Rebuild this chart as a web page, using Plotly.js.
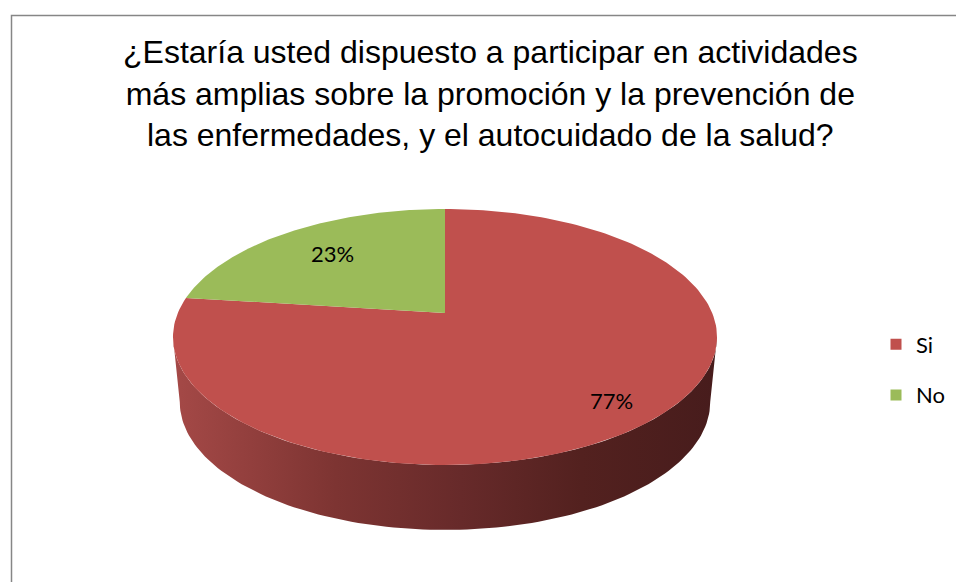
<!DOCTYPE html>
<html>
<head>
<meta charset="utf-8">
<script src="https://cdn.plot.ly/plotly-3.0.1.min.js"></script>
<style>html,body{margin:0;padding:0;background:#fff;}#chart{width:956px;height:582px;}</style>
</head>
<body>
<div id="chart"></div>
<script>
// ---- data ----
const categories = ['Si', 'No'];
const values = [77, 23];
const sliceColors = ['#C0504D', '#9BBB59'];
const titleLines = [
  '¿Estaría usted dispuesto a participar en actividades',
  'más amplias sobre la promoción y la prevención de',
  'las enfermedades, y el autocuidado de la salud?'
];

// ---- 3D pie projection (perspective disc) ----
const CX = 445, CY = 313;      // projected pie centre (pixels in axis units)
const P = 123.5, Q = 0.1875, R = 267.2, DEPTH = 65, BOTTOM_SCALE = 0.975;
function proj(u, w, dz, sx) {
  const den = 1 + Q * w;
  return [CX + sx * R * u / den, CY - P * w / den + dz];
}
const rad = d => d * Math.PI / 180;
function arc(a0, a1, dz, sx, n) {
  const xs = [], ys = [];
  for (let i = 0; i <= n; i++) {
    const a = rad(a0 + (a1 - a0) * i / n);
    const p = proj(Math.cos(a), Math.sin(a), dz, sx);
    xs.push(p[0]); ys.push(p[1]);
  }
  return [xs, ys];
}

const total = values.reduce((s, v) => s + v, 0);
const traces = [];
const tops = [];
const annotations = [];
const labelRho = [0.83, 0.7];

// visible front wall angular range
const tL = 180 + Math.asin(Q) * 180 / Math.PI;
const tR = 360 - Math.asin(Q) * 180 / Math.PI;

let cum = 0;
values.forEach((v, i) => {
  const aStart = 90 - cum / total * 360;
  cum += v;
  const aEnd = 90 - cum / total * 360;
  // wall part
  for (let k = -1; k <= 1; k++) {
    const lo = Math.max(aEnd + 360 * k, tL);
    const hi = Math.min(aStart + 360 * k, tR);
    if (hi > lo) {
      const top = arc(lo, hi, 0, 1, 120);
      const bot = arc(hi, lo, DEPTH, BOTTOM_SCALE, 120);
      traces.push({
        type: 'scatter', mode: 'lines', fill: 'toself',
        x: top[0].concat(bot[0]), y: top[1].concat(bot[1]),
        line: {width: 0, color: 'rgba(0,0,0,0)'},
        fillcolor: '#7a3130',
        fillgradient: {
          type: 'horizontal',
          colorscale: [[0, '#a54947'], [0.3, '#7d3432'], [0.53, '#672a2a'], [0.75, '#53211f'], [1, '#471c1c']]
        },
        hoverinfo: 'skip', showlegend: false
      });
    }
  }
  // top face
  const a = arc(aStart, aEnd, 0, 1, 200);
  const c = proj(0, 0, 0, 1);
  tops.push({
    type: 'scatter', mode: 'lines', fill: 'toself',
    x: [c[0]].concat(a[0], [c[0]]), y: [c[1]].concat(a[1], [c[1]]),
    line: {width: 0, color: sliceColors[i]},
    fillcolor: sliceColors[i],
    hoverinfo: 'skip', showlegend: false
  });
  // label
  const mid = rad((aStart + aEnd) / 2);
  const rho = labelRho[i];
  const lp = proj(rho * Math.cos(mid), rho * Math.sin(mid), 0, 1);
  annotations.push({
    x: lp[0], y: lp[1], xref: 'x', yref: 'y', showarrow: false,
    text: Math.round(v / total * 100) + '%',
    font: {family: 'Lato, Open Sans, sans-serif', size: 22, color: '#000'}
  });
});

// legend-only entries
const legendTraces = categories.map((cat, i) => ({
  type: 'scatter', mode: 'markers', x: [null], y: [null], name: cat,
  legendgroup: cat,
  marker: {symbol: 'square', size: 11, color: sliceColors[i]},
  hoverinfo: 'skip'
}));

annotations.push({
  x: 490, y: 93, xref: 'x', yref: 'y', showarrow: false,
  xanchor: 'center', yanchor: 'middle',
  text: titleLines.join('<br>'),
  font: {family: 'Liberation Sans, Arial, sans-serif', size: 32, color: '#000'}
});

const layout = {
  width: 956, height: 582, autosize: false,
  margin: {l: 0, r: 0, t: 0, b: 0, pad: 0},
  paper_bgcolor: '#fff', plot_bgcolor: '#fff',
  xaxis: {range: [0, 956], visible: false, fixedrange: true},
  yaxis: {range: [582, 0], visible: false, fixedrange: true},
  showlegend: true,
  legend: {
    x: 876 / 956, y: 1 - 370 / 582, xanchor: 'left', yanchor: 'middle',
    bgcolor: 'rgba(0,0,0,0)', borderwidth: 0,
    traceorder: 'grouped', tracegroupgap: 19,
    font: {family: 'Lato, Open Sans, sans-serif', size: 22, color: '#000'}
  },
  shapes: [{
    type: 'rect', xref: 'x', yref: 'y', x0: 11.5, y0: 15.5, x1: 1100, y1: 800,
    line: {color: '#868686', width: 1.5}, fillcolor: 'rgba(0,0,0,0)', layer: 'below'
  }],
  annotations: annotations
};

Plotly.newPlot('chart', traces.concat(tops, legendTraces), layout, {displayModeBar: false, staticPlot: true});
</script>
</body>
</html>
